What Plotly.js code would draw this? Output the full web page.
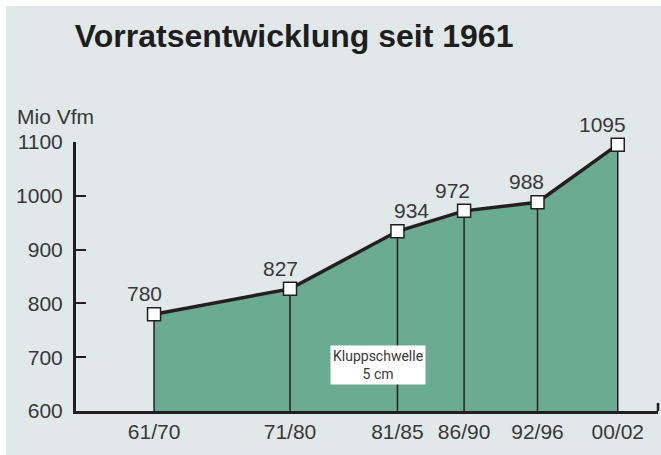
<!DOCTYPE html>
<html>
<head>
<meta charset="utf-8">
<script src="https://cdn.plot.ly/plotly-3.0.1.min.js"></script>
<style>
  html, body { margin: 0; padding: 0; background: #ffffff; }
  #chart { position: absolute; left: 6px; top: 6px; width: 655px; height: 449px; }
</style>
</head>
<body>
<div id="chart"></div>
<script>
// Periods (categories) and their approximate position on a time axis
const periods = ["61/70", "71/80", "81/85", "86/90", "92/96", "00/02"];
const periodPos = [1965.5, 1975.5, 1983.4, 1988.3, 1993.7, 1999.6];
// Growing stock, million m3 (Mio Vfm)
const stock = [780, 827, 934, 972, 988, 1095];
const yTicks = [600, 700, 800, 900, 1000, 1100];
const yMin = 600;

const ink = "#231f20";
const txt = "#383838";
const fontFam = "Liberation Sans, Arial, sans-serif";

const trace = {
  x: periodPos,
  y: stock,
  type: "scatter",
  mode: "lines+markers",
  fill: "tozeroy",
  fillcolor: "#6bab94",
  line: { color: ink, width: 3.5 },
  marker: { symbol: "square", size: 13, color: "#ffffff", line: { color: ink, width: 1.5 } },
  error_y: {
    type: "data", symmetric: false,
    array: stock.map(() => 0),
    arrayminus: stock.map(v => v - yMin),
    width: 0, thickness: 1.5, color: ink
  },
  cliponaxis: false,
  hoverinfo: "skip"
};

const labelShift = [-10, -10, 14, -12, -11, -15];
const annotations = stock.map((v, i) => ({
  x: periodPos[i], y: v, xref: "x", yref: "y",
  text: String(v), showarrow: false,
  yanchor: "bottom", xanchor: "center",
  xshift: labelShift[i], yshift: 7,
  font: { family: fontFam, size: 21, color: txt }
}));
annotations.push({
  xref: "paper", yref: "paper", x: -0.104, y: 1.093,
  xanchor: "left", yanchor: "middle",
  text: "Mio Vfm", showarrow: false,
  font: { family: fontFam, size: 21, color: txt }
});
annotations.push({
  xref: "x", yref: "y", x: 1982.0, y: 686,
  xanchor: "center", yanchor: "middle",
  text: "Kluppschwelle<br>5 cm", showarrow: false,
  bgcolor: "#ffffff", borderpad: 2,
  font: { family: "Liberation Sans Narrow, Roboto, Arial, sans-serif", size: 14, color: txt }
});

const layout = {
  width: 655, height: 449,
  paper_bgcolor: "#e1e8ea",
  plot_bgcolor: "rgba(0,0,0,0)",
  margin: { l: 70, r: 3, t: 136, b: 44 },
  showlegend: false,
  title: {
    text: "<b>Vorratsentwicklung seit 1961</b>",
    xref: "container", yref: "container",
    x: 0.105, xanchor: "left",
    y: 0.933, yanchor: "middle",
    font: { family: fontFam, size: 32, color: "#1e1e1e" }
  },
  xaxis: {
    range: [1959.76, 2002.56],
    tickvals: periodPos, ticktext: periods,
    ticks: "", showgrid: false, zeroline: false,
    showline: true, linecolor: ink, linewidth: 3,
    tickfont: { family: fontFam, size: 21, color: txt },
    fixedrange: true
  },
  yaxis: {
    range: [600, 1100],
    tickvals: yTicks,
    ticks: "inside", ticklen: 10, tickwidth: 2, tickcolor: ink,
    showgrid: false, zeroline: false,
    showline: true, linecolor: ink, linewidth: 3,
    ticklabelstandoff: 6,
    tickfont: { family: fontFam, size: 21, color: txt },
    fixedrange: true
  },
  shapes: [{
    type: "line", xref: "paper", yref: "paper",
    x0: 1, x1: 1, y0: 0, y1: 0.03,
    line: { color: ink, width: 2.5 }
  }],
  annotations: annotations
};

Plotly.newPlot("chart", [trace], layout, { displayModeBar: false, staticPlot: true });
</script>
</body>
</html>
